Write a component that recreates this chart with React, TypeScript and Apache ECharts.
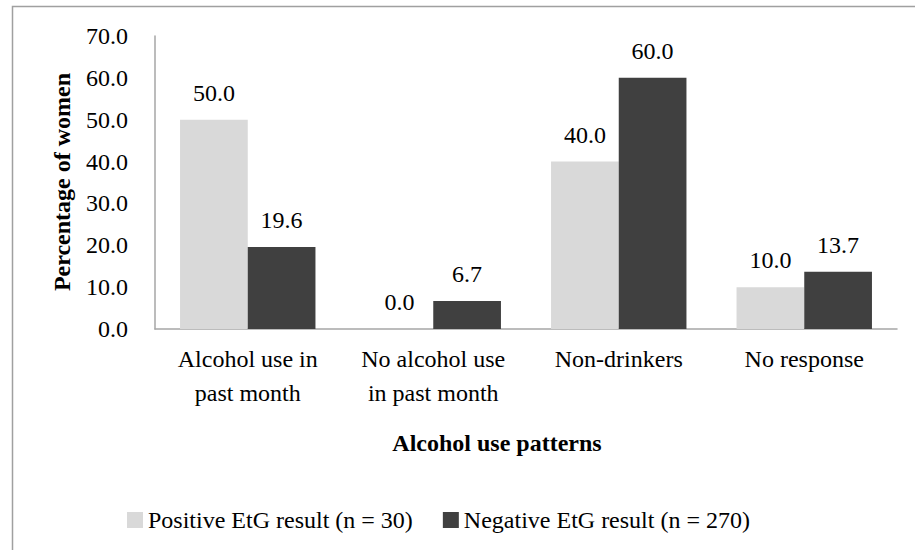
import React, { useEffect, useRef } from "react";
import * as echarts from "echarts";

const categories = [
  "Alcohol use in\npast month",
  "No alcohol use\nin past month",
  "Non-drinkers",
  "No response",
];
const positiveValues = [50.0, 0.0, 40.0, 10.0];
const negativeValues = [19.6, 6.7, 60.0, 13.7];
const seriesNames = ["Positive EtG result (n = 30)", "Negative EtG result (n = 270)"];
const yTicks = { min: 0, max: 70, interval: 10 };

const FONT = "Liberation Serif";
const FS = 24;

export default function App() {
  const ref = useRef<HTMLDivElement>(null);
  useEffect(() => {
    document.body.style.margin = "0";
    const chart = echarts.init(ref.current!, null, { renderer: "svg" });
    const labelCfg = {
      show: true,
      position: "top",
      distance: 15,
      color: "#000",
      fontFamily: FONT,
      fontSize: FS,
      formatter: (p: any) => Number(p.value).toFixed(1),
    };
    chart.setOption({
      animation: false,
      backgroundColor: "#fff",
      textStyle: { fontFamily: FONT },
      grid: { left: 155, right: 18, top: 36, bottom: 221, containLabel: false },
      xAxis: {
        type: "category",
        data: categories,
        axisLine: { show: true, lineStyle: { color: "#a6a6a6", width: 1.5 } },
        axisTick: { show: false },
        axisLabel: {
          color: "#000",
          fontFamily: FONT,
          fontSize: FS,
          lineHeight: 34,
          margin: 13,
          interval: 0,
        },
      },
      yAxis: {
        type: "value",
        min: yTicks.min,
        max: yTicks.max,
        interval: yTicks.interval,
        axisLine: { show: true, lineStyle: { color: "#a6a6a6", width: 1.5 } },
        axisTick: { show: false },
        splitLine: { show: false },
        axisLabel: {
          color: "#000",
          fontFamily: FONT,
          fontSize: FS,
          margin: 27,
          formatter: (v: number) => v.toFixed(1),
        },
      },
      legend: {
        left: 122,
        top: 503,
        itemWidth: 16,
        itemHeight: 16,
        itemGap: 30,
        icon: "rect",
        textStyle: { color: "#000", fontFamily: FONT, fontSize: FS },
        data: seriesNames,
      },
      graphic: [
        {
          type: "rect",
          shape: { x: 12.5, y: 6.5, width: 1000, height: 700 },
          style: { fill: "none", stroke: "#a0a0a0", lineWidth: 1.5 },
          silent: true,
        },
        {
          type: "text",
          x: 62,
          y: 182,
          rotation: Math.PI / 2,
          style: {
            text: "Percentage of women",
            fontFamily: FONT,
            fontSize: FS,
            fontWeight: "bold",
            fill: "#000",
            align: "center",
            verticalAlign: "middle",
          },
        },
        {
          type: "text",
          x: 497,
          y: 443,
          style: {
            text: "Alcohol use patterns",
            fontFamily: FONT,
            fontSize: FS,
            fontWeight: "bold",
            fill: "#000",
            align: "center",
            verticalAlign: "middle",
          },
        },
      ],
      series: [
        {
          name: seriesNames[0],
          type: "bar",
          data: positiveValues,
          itemStyle: { color: "#d9d9d9" },
          barGap: "0%",
          barCategoryGap: "27%",
          label: labelCfg,
        },
        {
          name: seriesNames[1],
          type: "bar",
          data: negativeValues,
          itemStyle: { color: "#404040" },
          barGap: "0%",
          barCategoryGap: "27%",
          label: labelCfg,
        },
      ],
    });
    return () => chart.dispose();
  }, []);
  return <div ref={ref} style={{ width: 915, height: 550 }} />;
}
